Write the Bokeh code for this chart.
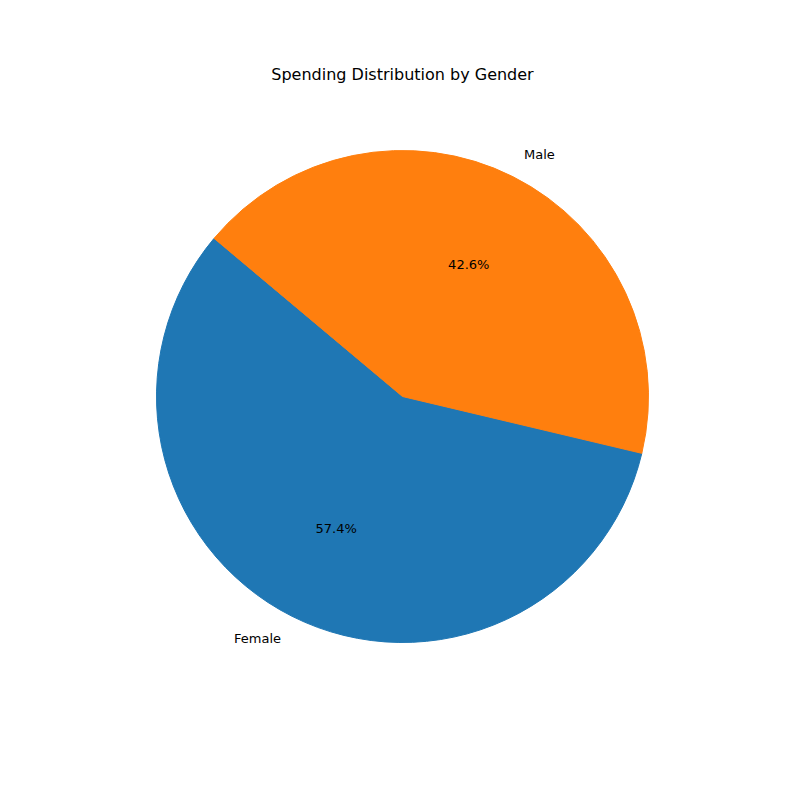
import math
from bokeh.plotting import figure
from bokeh.models import Range1d
from bokeh.core.properties import value
from bokeh.embed import file_html
from bokeh.resources import INLINE

labels = ["Female", "Male"]
shares = [57.4, 42.6]
colors = ["#1f77b4", "#ff7f0e"]
start_deg = 140.0
title = "Spending Distribution by Gender"

R = 246.0
W = H = 784
cx, cy = 402.0, 396.0
p = figure(width=W, height=H, output_backend="svg", toolbar_location=None,
           x_range=Range1d(-cx / R, (W - cx) / R), y_range=Range1d(-(H - cy) / R, cy / R),
           min_border=0)
p.axis.visible = False
p.grid.visible = False
p.outline_line_color = None

total = sum(shares)
a = math.radians(start_deg)
for lab, s, c in zip(labels, shares, colors):
    span = 2 * math.pi * s / total
    p.wedge(x=0, y=0, radius=1, start_angle=a, end_angle=a + span, color=c, line_color=c)
    mid = a + span / 2
    lx, ly = 1.1 * math.cos(mid), 1.1 * math.sin(mid)
    p.text(x=[lx], y=[ly], text=[lab], text_align="left" if lx > 0 else "right",
           text_baseline="middle", text_font=value("DejaVu Sans"), text_font_size="13px", text_color="black")
    p.text(x=[0.6 * math.cos(mid)], y=[0.6 * math.sin(mid)], text=[f"{s:.1f}%"], text_align="center",
           text_baseline="middle", text_font=value("DejaVu Sans"), text_font_size="13px", text_color="black")
    a += span

p.text(x=[0], y=[(cy - 74) / R], text=[title], text_align="center", text_baseline="middle",
       text_font=value("DejaVu Sans"), text_font_size="16px", text_color="black")

open("out.html", "w").write(file_html(p, INLINE))
